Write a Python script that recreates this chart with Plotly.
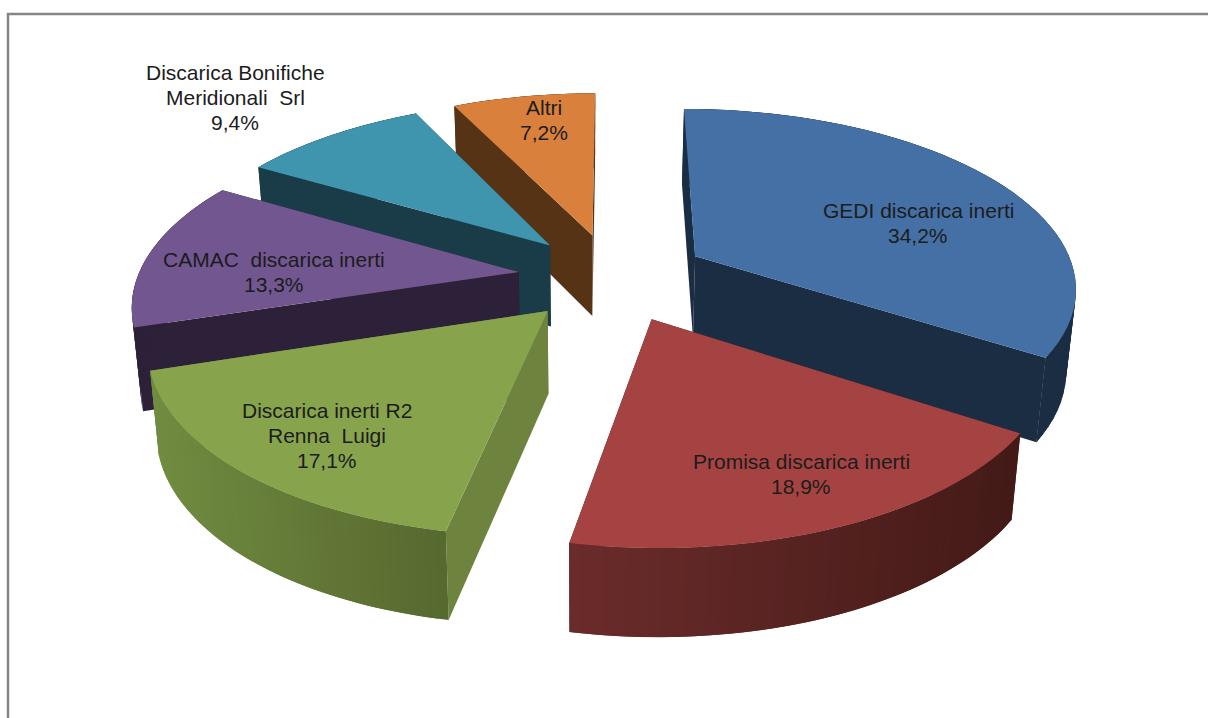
import math
import plotly.graph_objects as go

# ---- data ----
names = ["GEDI discarica inerti", "Promisa discarica inerti", "Discarica inerti R2<br>Renna  Luigi",
         "CAMAC  discarica inerti", "Discarica Bonifiche<br>Meridionali  Srl", "Altri"]
values = [34.2, 18.9, 17.1, 13.3, 9.4, 7.2]

# ---- style ----
top_colors = ["#4470a5", "#a54343", "#87a44d", "#725690", "#4095ae", "#d9813c"]
radial_colors = ["#1a2d43", "#431a17", "#6e833d", "#2c2138", "#1a3c48", "#573316"]
wall_light = ["#1a2d43", "#6b2c2b", "#718c40", "#2c2138", "#1a3c48", "#573316"]
wall_dark = ["#1a2d43", "#431a17", "#56682f", "#2c2138", "#1a3c48", "#573316"]
label_x = [918, 801, 327, 274, 235, 544]
label_y = [223, 474, 435, 272, 97, 120]
draw_order = [5, 4, 3, 0, 2, 1]

CX, CY = 613, 277      # projected centre of the pie, px
A, B = 381, 177        # disc radii on screen, px
P = 0.16               # perspective strength
EXPLODE = 0.25         # slice pull-out, in radii
DEPTH = 82             # thickness, px
VX = 585               # x the vertical edges converge to, px
LINE_H = 25            # label line height, px


def top(X, Y):
    s = 1 / (1 + P * Y)
    return CX + A * X * s, CY - B * Y * s


def bottom(X, Y):
    x, y = top(X, Y)
    return VX + (x - VX) * 0.98, y + DEPTH * (1 - 0.07 * Y)


def mix(c1, c2, t):
    a = [int(c1[i:i + 2], 16) for i in (1, 3, 5)]
    b = [int(c2[i:i + 2], 16) for i in (1, 3, 5)]
    return "rgb({},{},{})".format(*[round(u + (v - u) * t) for u, v in zip(a, b)])


fig = go.Figure()


def poly(pts, color):
    xs = [p[0] for p in pts] + [pts[0][0]]
    ys = [p[1] for p in pts] + [pts[0][1]]
    fig.add_trace(go.Scatter(x=xs, y=ys, mode="none", fill="toself", fillcolor=color,
                             hoverinfo="skip", showlegend=False))


total = sum(values)
starts, cum = [], 0.0
for v in values:
    starts.append(cum / total * 2 * math.pi)
    cum += v

for i in draw_order:
    a0 = starts[i]
    a1 = a0 + values[i] / total * 2 * math.pi
    mid = (a0 + a1) / 2
    ox, oy = EXPLODE * math.sin(mid), EXPLODE * math.cos(mid)
    n = 48
    arc = [(ox + math.sin(a0 + (a1 - a0) * k / n), oy + math.cos(a0 + (a1 - a0) * k / n)) for k in range(n + 1)]
    apex = (ox, oy)
    # radial walls
    for end in (arc[0], arc[-1]):
        poly([top(*apex), top(*end), bottom(*end), bottom(*apex)], radial_colors[i])
    # outer wall, shaded left to right; neighbouring strips overlap so no seams show
    xs_all = [top(*p)[0] for p in arc]
    lo, hi = min(xs_all), max(xs_all)
    for k in range(n):
        p, q = arc[k], arc[min(k + 2, n)]
        t = ((top(*arc[k])[0] + top(*arc[k + 1])[0]) / 2 - lo) / (hi - lo)
        poly([top(*p), top(*q), bottom(*q), bottom(*p)], mix(wall_light[i], wall_dark[i], t))
    # top face
    poly([top(*apex)] + [top(*p) for p in arc], top_colors[i])

for name, v, x, y in zip(names, values, label_x, label_y):
    pct = f"{v:.1f}".replace(".", ",") + "%"
    lines = name.split("<br>") + [pct]
    for j, line in enumerate(lines):
        fig.add_annotation(x=x, y=y + (j - (len(lines) - 1) / 2) * LINE_H, text=line, showarrow=False,
                           xanchor="center", yanchor="middle", align="center",
                           font=dict(family="Liberation Sans", size=21, color="#1c1c1c"))

# chart frame (top and left edges fall inside the picture)
fig.add_shape(type="rect", xref="x", yref="y", x0=8, y0=14, x1=1300, y1=800,
              line=dict(color="#868686", width=2.5), layer="below")

fig.update_layout(width=1208, height=718, margin=dict(l=0, r=0, t=0, b=0), paper_bgcolor="white",
                  plot_bgcolor="white", showlegend=False,
                  xaxis=dict(range=[0, 1208], visible=False, fixedrange=True),
                  yaxis=dict(range=[718, 0], visible=False, fixedrange=True))
fig.write_html("out.html", config={"displayModeBar": False},
               post_script="document.body.style.margin='0';document.body.style.overflow='hidden';")
